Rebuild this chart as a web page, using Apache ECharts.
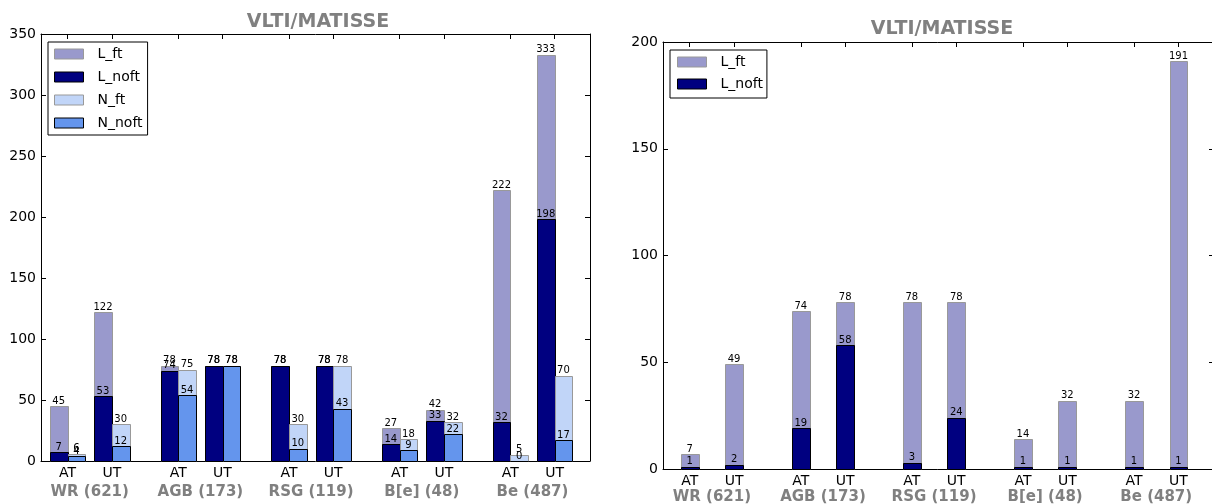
<!DOCTYPE html>
<html><head><meta charset="utf-8">
<script src="https://cdn.jsdelivr.net/npm/echarts@6/dist/echarts.min.js"></script>
<style>html,body{margin:0;padding:0;background:#fff}#c{width:1212px;height:504px}</style>
</head><body><div id="c"></div>
<script>
// ---- data ----
const groups = ['WR (621)', 'AGB (173)', 'RSG (119)', 'B[e] (48)', 'Be (487)'];
const subLabels = ['AT', 'UT'];
const yTicksLeft = [0, 50, 100, 150, 200, 250, 300, 350];
const yTicksRight = [0, 50, 100, 150, 200];
// left panel (order: WR AT, WR UT, AGB AT, AGB UT, ...)
const leftLft   = [45, 122, 78, 78, 78, 78, 27, 42, 222, 333];
const leftLnoft = [7, 53, 74, 78, 78, 78, 14, 33, 32, 198];
const leftNft   = [6, 30, 75, 78, 30, 78, 18, 32, 5, 70];
const leftNnoft = [4, 12, 54, 78, 10, 43, 9, 22, 0, 17];
// right panel
const rightLft   = [7, 49, 74, 78, 78, 78, 14, 32, 32, 191];
const rightLnoft = [1, 2, 19, 58, 3, 24, 1, 1, 1, 1];

// ---- layout helpers ----
const positions = [];
groups.forEach((g, i) => subLabels.forEach((s, j) => positions.push(i * 2.5 + j)));
const groupCenters = groups.map((g, i) => i * 2.5 + 0.5);
const pairs = vals => vals.map((v, i) => [positions[i], v]);
const FONT = 'DejaVu Sans';
const styles = {
  L_ft:   { fill: '#9999cc', stroke: '#999999' },
  L_noft: { fill: '#000080', stroke: '#000000' },
  N_ft:   { fill: '#c1d5f8', stroke: '#999999' },
  N_noft: { fill: '#6495ed', stroke: '#000000' }
};
const AXC = '#000';
const XMIN = -0.6, XMAX = 11.8;

function makeRender(off0, off1, key, order) {
  return function (params, api) {
    const x = api.value(0), v = api.value(1);
    const p0 = api.coord([x + off0, 0]);
    const p1 = api.coord([x + off1, v]);
    const c = styles[key];
    return {
      type: 'group',
      children: [
        { type: 'rect', z2: order,
          shape: { x: Math.round(p0[0]) + 0.5, y: Math.round(p1[1]) + 0.5, width: Math.round(p1[0]) - Math.round(p0[0]), height: Math.round(p0[1]) - Math.round(p1[1]) },
          style: { fill: c.fill, stroke: c.stroke, lineWidth: 1 } },
        { type: 'text', z2: 50, x: (p0[0] + p1[0]) / 2, y: p1[1],
          style: { text: String(v), fill: '#000', font: '10px "' + FONT + '"', textAlign: 'center', textVerticalAlign: 'bottom' } }
      ]
    };
  };
}

function findIdx(arr, v) { return arr.findIndex(p => Math.abs(p - v) < 1e-6); }

function xAxesFor(gi, mainMargin, groupMargin) {
  return [
    { gridIndex: gi, type: 'value', min: XMIN, max: XMAX, position: 'bottom',
      axisLine: { show: true, onZero: false, lineStyle: { color: AXC, width: 1 } },
      axisTick: { show: true, inside: true, length: 5, customValues: positions, lineStyle: { color: AXC } },
      axisLabel: { customValues: positions, margin: mainMargin, color: '#000', fontSize: 14, fontFamily: FONT,
        formatter: v => { const k = findIdx(positions, v); return k < 0 ? '' : subLabels[k % 2]; } },
      splitLine: { show: false } },
    { gridIndex: gi, type: 'value', min: XMIN, max: XMAX, position: 'bottom',
      axisLine: { show: false, onZero: false }, axisTick: { show: false },
      axisLabel: { customValues: groupCenters, margin: groupMargin, color: '#808080', fontSize: 15, fontWeight: 'bold', fontFamily: FONT,
        formatter: v => { const k = findIdx(groupCenters, v); return k < 0 ? '' : groups[k]; } },
      splitLine: { show: false } },
    { gridIndex: gi, type: 'value', min: XMIN, max: XMAX, position: 'top',
      axisLine: { show: true, onZero: false, lineStyle: { color: AXC, width: 1 } },
      axisTick: { show: true, inside: true, length: 5, customValues: positions, lineStyle: { color: AXC } },
      axisLabel: { show: false }, splitLine: { show: false } }
  ];
}
function yAxesFor(gi, ticks) {
  const max = ticks[ticks.length - 1];
  return [
    { gridIndex: gi, type: 'value', min: 0, max: max, interval: 50, position: 'left',
      axisLine: { show: true, onZero: false, lineStyle: { color: AXC, width: 1 } },
      axisTick: { show: true, inside: true, length: 5, lineStyle: { color: AXC } },
      axisLabel: { margin: 5, color: '#000', fontSize: 14, fontFamily: FONT },
      splitLine: { show: false } },
    { gridIndex: gi, type: 'value', min: 0, max: max, interval: 50, position: 'right',
      axisLine: { show: true, onZero: false, lineStyle: { color: AXC, width: 1 } },
      axisTick: { show: true, inside: true, length: 5, lineStyle: { color: AXC } },
      axisLabel: { show: false }, splitLine: { show: false } }
  ];
}
function series(name, data, xi, yi, off0, off1, order) {
  return { type: 'custom', name: name, xAxisIndex: xi, yAxisIndex: yi, data: pairs(data),
    encode: { x: 0, y: 1 }, clip: false, silent: true,
    itemStyle: { color: styles[name].fill, borderColor: styles[name].stroke, borderWidth: 1 },
    renderItem: makeRender(off0, off1, name, order) };
}
function legendData(names) {
  return names.map(n => ({ name: n, icon: 'rect', itemStyle: { color: styles[n].fill, borderColor: styles[n].stroke, borderWidth: 1 } }));
}

const chart = echarts.init(document.getElementById('c'), null, { renderer: 'canvas' });
chart.setOption({
  animation: false,
  backgroundColor: '#fff',
  graphic: [
    { type: 'text', x: 318, y: 22, style: { text: 'VLTI/MATISSE', fill: '#808080', font: 'bold 19px "' + FONT + '"', textAlign: 'center', textVerticalAlign: 'middle' } },
    { type: 'text', x: 942, y: 29, style: { text: 'VLTI/MATISSE', fill: '#808080', font: 'bold 19px "' + FONT + '"', textAlign: 'center', textVerticalAlign: 'middle' } }
  ],
  grid: [
    { left: 41, top: 34, width: 549, height: 427, outerBoundsMode: 'none', containLabel: false },
    { left: 663, top: 42, width: 551, height: 427, outerBoundsMode: 'none', containLabel: false }
  ],
  legend: [
    { orient: 'vertical', left: 48, top: 42, padding: [4, 5, 4, 6], itemWidth: 29, itemHeight: 10, itemGap: 7,
      borderColor: '#000', borderWidth: 1, backgroundColor: '#fff', selectedMode: false,
      textStyle: { fontSize: 14, fontFamily: FONT, color: '#000', lineHeight: 16, padding: [0, 0, 0, 9] },
      data: legendData(['L_ft', 'L_noft', 'N_ft', 'N_noft']) },
    { orient: 'vertical', left: 670, top: 50, padding: [4, 4, 6, 7], itemWidth: 29, itemHeight: 10, itemGap: 6,
      borderColor: '#000', borderWidth: 1, backgroundColor: '#fff', selectedMode: false,
      textStyle: { fontSize: 14, fontFamily: FONT, color: '#000', lineHeight: 16, padding: [0, 0, 0, 9] },
      data: legendData(['L_ft', 'L_noft']) }
  ],
  xAxis: [].concat(xAxesFor(0, 5, 24), xAxesFor(1, 5, 21)),
  yAxis: [].concat(yAxesFor(0, yTicksLeft), yAxesFor(1, yTicksRight)),
  series: [
    series('L_ft', leftLft, 0, 0, -0.4, 0, 1),
    series('L_noft', leftLnoft, 0, 0, -0.4, 0, 2),
    series('N_ft', leftNft, 0, 0, 0, 0.4, 3),
    series('N_noft', leftNnoft, 0, 0, 0, 0.4, 4),
    series('L_ft', rightLft, 3, 2, -0.2, 0.2, 1),
    series('L_noft', rightLnoft, 3, 2, -0.2, 0.2, 2)
  ]
});
</script></body></html>
